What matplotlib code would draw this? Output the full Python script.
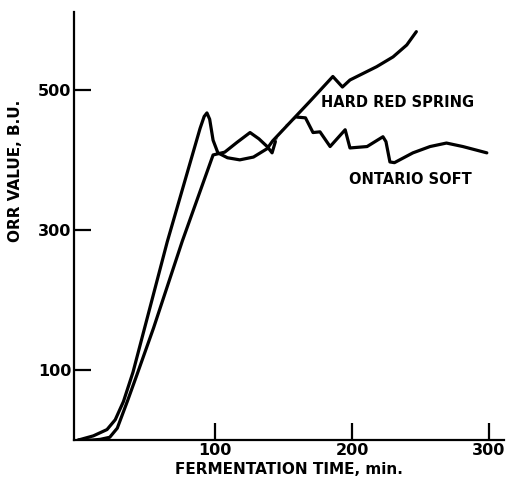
import matplotlib.pyplot as plt
import numpy as np

# Hard Red Spring (peaks first, then climbs along the long straight line)
hrs_t = [0, 11, 21, 27, 33, 40, 65, 89, 92, 94, 96, 98.5, 102, 109, 118, 128,
         138, 142, 155, 169, 186, 193, 198.5, 218, 230, 240, 247]
hrs_v = [0, 6, 15, 29, 55, 97, 283, 445, 462, 467, 458, 428, 410, 403, 400, 404,
         416, 427, 454, 483, 519, 504, 514, 533, 547, 564, 583]

# Ontario soft
ont_t = [0, 10, 16, 23, 28.5, 36, 43, 55, 76, 98.5, 107, 116, 125.5, 132, 138, 141.6, 144]
ont_v = [0, 0, 1, 4, 17, 56, 94, 160, 284, 407, 411, 425, 439, 430, 419, 410, 426]
ont_dash_t = [144, 150, 160]
ont_dash_v = [426, 447, 461]
ont2_t = [160, 166, 171.5, 176.6, 184, 195, 198.5, 211, 222.6, 224.8, 227.7, 231,
          244.5, 257, 269, 281, 298.5]
ont2_v = [461, 460, 439, 440, 419, 443, 417, 419, 433, 426, 397, 396,
          410, 419, 424, 419, 410]

x_ticks = [100, 200, 300]
y_ticks = [100, 300, 500]

plt.rcParams['font.family'] = ['DejaVu Sans']
fig = plt.figure(figsize=(5.08, 4.82), dpi=100)
ax = fig.add_axes([0.146, 0.087, 0.846, 0.888])

lw = 2.3
ax.plot(hrs_t, hrs_v, color='black', lw=lw, solid_joinstyle='round', solid_capstyle='round')
ax.plot(ont_t, ont_v, color='black', lw=lw, solid_joinstyle='round', solid_capstyle='round')
ax.plot(ont_dash_t, ont_dash_v, color='black', lw=1.0, ls=(0, (3, 4)), alpha=0.5)
ax.plot(ont2_t, ont2_v, color='black', lw=lw, solid_joinstyle='round', solid_capstyle='round')

ax.set_xlim(-3, 311)
ax.set_ylim(0, 611)
for s in ['top', 'right']:
    ax.spines[s].set_visible(False)
for s in ['left', 'bottom']:
    ax.spines[s].set_linewidth(1.6)

ax.set_xticks(x_ticks)
ax.set_yticks(y_ticks)
ax.tick_params(direction='in', length=12, width=1.6, labelsize=11.5, pad=2)
for lab in ax.get_xticklabels() + ax.get_yticklabels():
    lab.set_fontweight('bold')

ax.set_xlabel('FERMENTATION TIME, min.', fontsize=11, fontweight='bold', labelpad=3)
ax.set_ylabel('ORR VALUE, B.U.', fontsize=11, fontweight='bold')
ax.yaxis.set_label_coords(-0.118, 0.63)

ax.text(177.5, 482, 'HARD RED SPRING', fontsize=10.5, fontweight='bold', va='center')
ax.text(198, 372, 'ONTARIO SOFT', fontsize=10.5, fontweight='bold', va='center')

fig.savefig('out.png', dpi=100)
